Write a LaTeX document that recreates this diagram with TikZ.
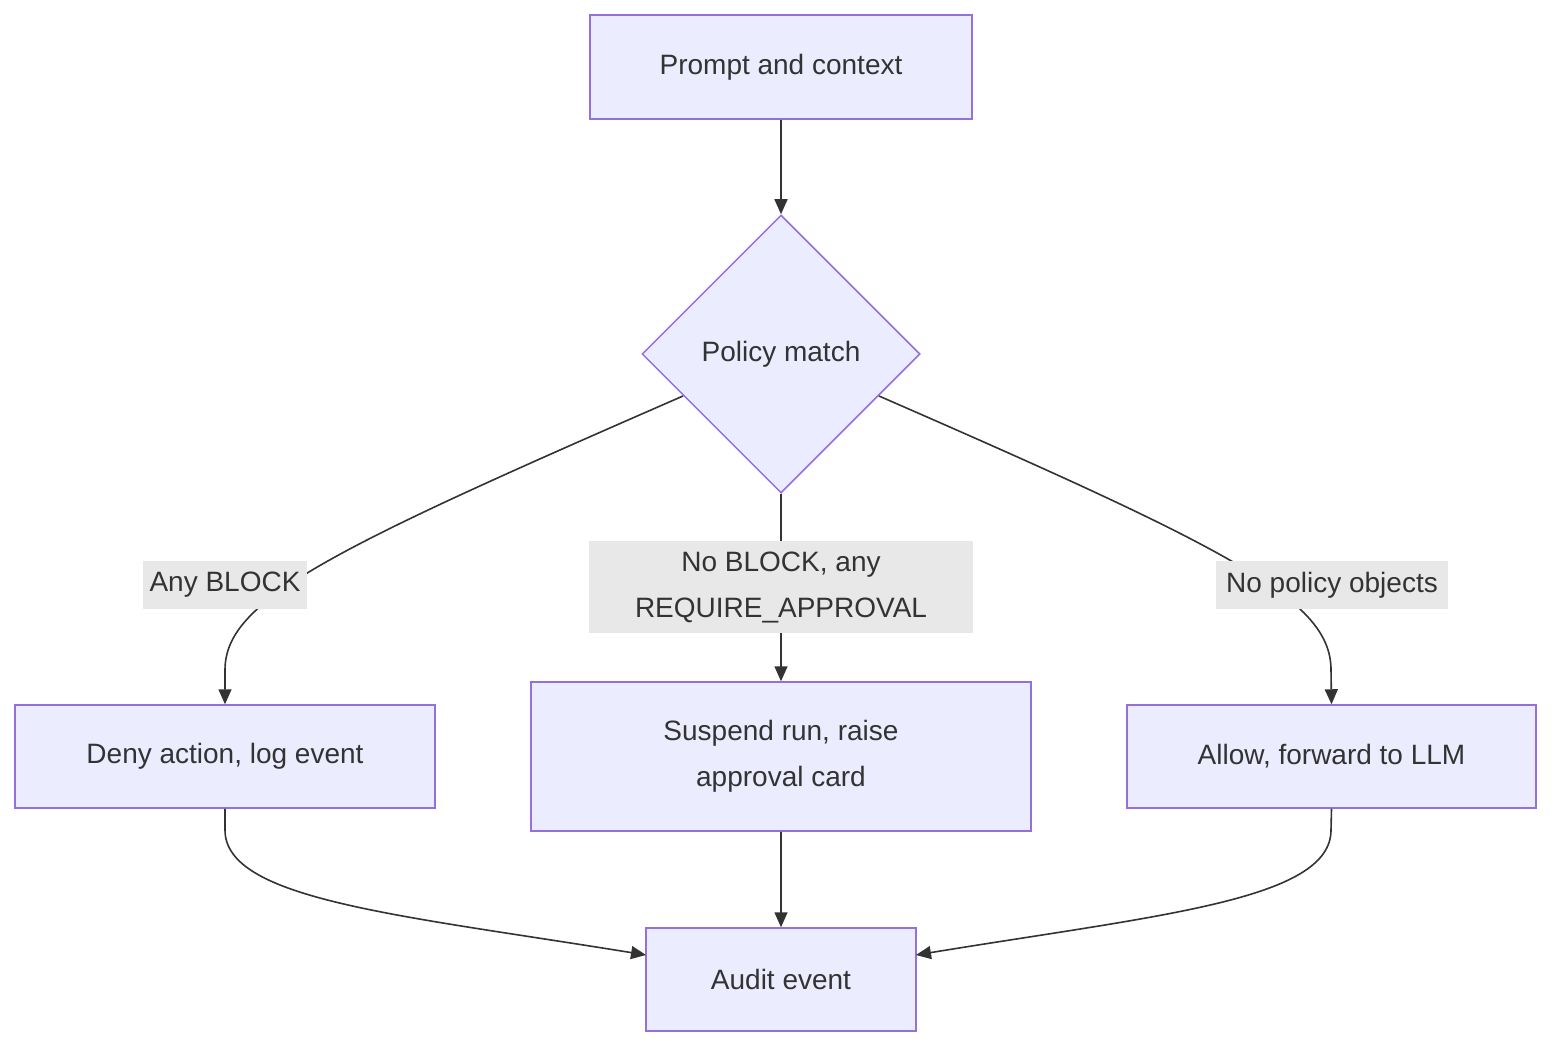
\documentclass[tikz,border=0pt]{standalone}
\usepackage{fontspec}
\setmainfont{Liberation Sans}
\usetikzlibrary{shapes.geometric,arrows.meta}
\definecolor{nfill}{HTML}{ECECFF}
\definecolor{ndraw}{HTML}{9370DB}
\definecolor{ln}{HTML}{333333}
\definecolor{lbg}{HTML}{E8E8E8}
\begin{document}
\begin{tikzpicture}[x=1pt,y=-1pt,
  box/.style={draw=ndraw,fill=nfill,line width=1.5pt,text=ln,font=\fontsize{28}{46}\selectfont,align=center,inner sep=0pt},
  dia/.style={diamond,draw=ndraw,fill=nfill,line width=1.5pt,text=ln,font=\fontsize{28}{46}\selectfont,minimum width=278pt,minimum height=278pt,inner sep=0pt},
  lab/.style={fill=lbg,text=ln,font=\fontsize{28}{46}\selectfont,align=center,inner sep=0pt},
  edge/.style={draw=ln,line width=1.6pt,-{Triangle[length=15pt,width=13pt]}}]
\useasboundingbox (0,0) rectangle (1568,1058);
\node[box,minimum width=382pt,minimum height=104pt] (p) at (781,67) {Prompt and context};
\node[dia] (pol) at (781,354) {Policy match};
\node[box,minimum width=420pt,minimum height=103pt] (d) at (225,756.5) {Deny action, log event};
\node[box,minimum width=500pt,minimum height=149pt] (s) at (781,756.5) {Suspend run, raise\\approval card};
\node[box,minimum width=409pt,minimum height=103pt] (al) at (1331.5,756.5) {Allow, forward to LLM};
\node[box,minimum width=270pt,minimum height=103pt] (au) at (781,979.5) {Audit event};
\coordinate (pl) at (683,396);
\coordinate (pr) at (879,396);
\coordinate (ai) at (646,955);
\coordinate (ar) at (916,955);
\draw[edge] (p) -- (pol);
\draw[edge] (pl) .. controls (330,550) and (225,600) .. (225,670) -- (d.north);
\draw[edge] (pr) .. controls (1232,550) and (1331,600) .. (1331,670) -- (al.north);
\draw[edge] (pol.south) -- (s.north);
\draw[edge] (d.south) -- (225,830) .. controls (225,900) and (400,915) .. (ai);
\draw[edge] (al.south) -- (1331,830) .. controls (1331,900) and (1160,915) .. (ar);
\draw[edge] (s.south) -- (au.north);
\node[lab,minimum width=164pt,minimum height=48pt] (l1) at (225,585) {Any BLOCK};
\node[lab,minimum width=384pt,minimum height=92pt] (l2) at (781,587) {No BLOCK, any\\REQUIRE\_APPROVAL};
\node[lab,minimum width=232pt,minimum height=48pt] (l3) at (1332,585) {No policy objects};
\end{tikzpicture}
\end{document}
